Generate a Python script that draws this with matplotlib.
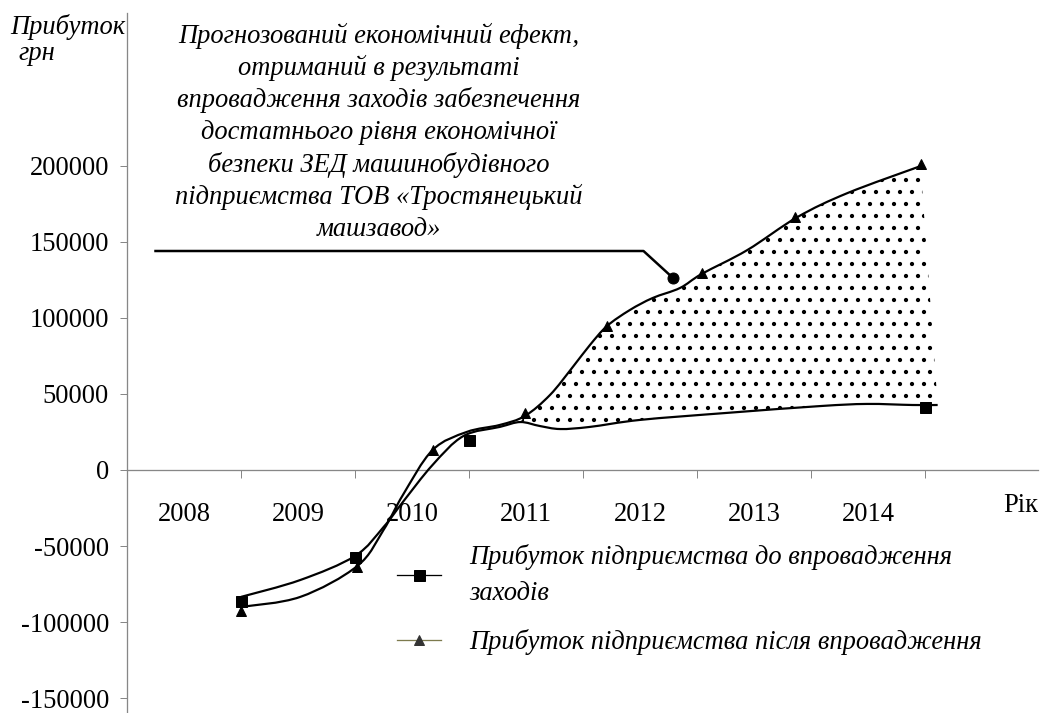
import numpy as np
import matplotlib
matplotlib.use("Agg")
import matplotlib.pyplot as plt
from matplotlib.path import Path
from matplotlib.patches import PathPatch
from matplotlib.lines import Line2D

plt.rcParams["font.family"] = ["Liberation Serif", "DejaVu Serif"]
plt.rcParams["axes.unicode_minus"] = False
plt.rcParams["hatch.linewidth"] = 1.8

# ── data ─────────────────────────────────────────────────────────────
years = [2008, 2009, 2010, 2011, 2012, 2013, 2014]
year_edges = [2008.5, 2009.5, 2010.5, 2011.5, 2012.5, 2013.5, 2014.5]
y_ticks = [-150000, -100000, -50000, 0, 50000, 100000, 150000, 200000]

# profit before the measures: traced curve + marker points
before_x = [2008.50, 2009.02, 2009.50, 2009.75, 2009.92, 2010.18, 2010.45, 2010.77,
            2010.95, 2011.12, 2011.30, 2011.56, 2012.00, 2012.76, 2013.58, 2013.99,
            2014.39, 2014.61]
before_y = [-83400, -72300, -56500, -37500, -21000, 3300, 22300, 28300,
            31500, 28900, 26900, 28300, 32900, 37500, 42000, 43400,
            42700, 42700]
before_mark_x = [2008.5, 2009.5, 2010.5, 2014.5]
before_mark_y = [-86000, -57000, 20000, 41500]

# profit after the measures: traced curve + marker points
after_x = [2008.50, 2009.02, 2009.52, 2009.75, 2009.92, 2010.18, 2010.48, 2010.77,
           2010.99, 2011.21, 2011.41, 2011.56, 2011.71, 2011.91, 2012.11, 2012.35,
           2012.54, 2012.94, 2013.38, 2013.82, 2014.46]
after_y = [-90000, -83400, -63100, -39400, -16400, 13100, 25000, 29600,
           35500, 49300, 67700, 82100, 94600, 105100, 113000, 119600,
           128800, 144500, 166200, 182000, 199700]
after_mark_x = [2008.5, 2009.52, 2010.18, 2010.99, 2011.71, 2012.54, 2013.36, 2014.46]
after_mark_y = [-92600, -63700, 13100, 37500, 94600, 129400, 166200, 201000]

# callout leader (horizontal line, kink, dot)
callout_x = [2007.75, 2012.03, 2012.29]
callout_y = [143900, 143900, 126100]

title_lines = ["Прогнозований економічний ефект,",
               "отриманий в результаті",
               "впровадження заходів забезпечення",
               "достатнього рівня економічної",
               "безпеки ЗЕД машинобудівного",
               "підприємства ТОВ «Тростянецький",
               "машзавод»"]
label_before = "Прибуток підприємства до впровадження\nзаходів"
label_after = "Прибуток підприємства після впровадження"


def bezier_segments(xs, ys):
    """Catmull-Rom through the points, as cubic Bezier segments."""
    p = np.column_stack([xs, ys]).astype(float)
    segs = []
    for i in range(len(p) - 1):
        p0 = p[i - 1] if i > 0 else p[i]
        p3 = p[i + 2] if i + 2 < len(p) else p[i + 1]
        c1 = p[i] + (p[i + 1] - p0) / 6
        c2 = p[i + 1] - (p3 - p[i]) / 6
        segs.append((p[i], c1, c2, p[i + 1]))
    return segs


def segs_to_path(segs):
    verts = [segs[0][0]]
    codes = [Path.MOVETO]
    for s in segs:
        verts += [s[1], s[2], s[3]]
        codes += [Path.CURVE4] * 3
    return Path(verts, codes)


W, H, DPI = 1046, 713, 72
FS = 26.5
fig = plt.figure(figsize=(W / DPI, H / DPI), dpi=DPI)
ax = fig.add_axes([127 / W, 0, (1038 - 127) / W, (713 - 13) / H])
ax.set_xlim(2007.5, 2015.49)
ax.set_ylim(-159700, 300300)

axis_grey = "#878787"
for side in ["top", "right"]:
    ax.spines[side].set_visible(False)
ax.spines["bottom"].set_position(("data", 0))
for side in ["left", "bottom"]:
    ax.spines[side].set_color(axis_grey)
    ax.spines[side].set_linewidth(1.3)

ax.set_yticks(y_ticks)
ax.set_yticklabels([str(v) for v in y_ticks])
ax.tick_params(axis="y", direction="out", length=7, width=1, color=axis_grey,
               labelsize=FS, pad=11)
ax.set_xticks(year_edges)
ax.set_xticklabels([])
ax.set_xticks(years, minor=True)
ax.set_xticklabels([str(y) for y in years], minor=True)
ax.tick_params(axis="x", which="major", direction="out", length=8, width=1, color=axis_grey)
ax.tick_params(axis="x", which="minor", length=0, labelsize=FS, pad=32)

# dotted area: effect between the two curves
seg_after = bezier_segments(after_x, after_y)
seg_before = bezier_segments(before_x, before_y)
i0 = after_x.index(2010.99)
j0 = before_x.index(2010.95)
top = seg_after[i0:]
bot = [(s[3], s[2], s[1], s[0]) for s in reversed(seg_before[j0:])]
verts = [top[0][0]]
codes = [Path.MOVETO]
for s in top:
    verts += [s[1], s[2], s[3]]
    codes += [Path.CURVE4] * 3
verts.append(bot[0][0])
codes.append(Path.LINETO)
for s in bot:
    verts += [s[1], s[2], s[3]]
    codes += [Path.CURVE4] * 3
verts.append(verts[0])
codes.append(Path.CLOSEPOLY)
ax.add_patch(PathPatch(Path(verts, codes), facecolor="none", edgecolor="black",
                       linewidth=0, hatch=".", zorder=1))

# curves
ax.add_patch(PathPatch(segs_to_path(seg_before), facecolor="none", edgecolor="black",
                       linewidth=2.2, zorder=3))
ax.add_patch(PathPatch(segs_to_path(seg_after), facecolor="none", edgecolor="black",
                       linewidth=2.2, zorder=3))
ax.plot(before_mark_x, before_mark_y, "s", color="black", markersize=11, zorder=4)
ax.plot(after_mark_x, after_mark_y, "^", color="black", markersize=10, zorder=4)

# callout
ax.plot(callout_x, callout_y, color="black", linewidth=2.5, zorder=4)
ax.plot(callout_x[-1], callout_y[-1], "o", color="black", markersize=11, zorder=4)

# title block, one text per line with the original spacing
for k, line in enumerate(title_lines):
    fig.text(379 / W, 1 - (33 + 32.2 * k) / H, line, ha="center", va="center_baseline",
             fontsize=FS, style="italic")
fig.text(10 / W, 1 - 27 / H, "Прибуток", ha="left", va="center", fontsize=FS, style="italic")
fig.text(18 / W, 1 - 53 / H, "грн", ha="left", va="center", fontsize=FS, style="italic")
fig.text(1021 / W, 1 - 505 / H, "Рік", ha="center", va="center", fontsize=FS)

handles = [
    Line2D([0], [0], color="black", linewidth=1.3, marker="s", markersize=11),
    Line2D([0], [0], color="#7d7a4e", linewidth=1.3, marker="^", markersize=10,
           markerfacecolor="#333333", markeredgecolor="#333333"),
]
leg = fig.legend(handles, [label_before, label_after], loc="upper left",
                 bbox_to_anchor=(397 / W, 1 - 544 / H), frameon=False,
                 prop={"size": FS, "style": "italic"}, handlelength=1.66,
                 handletextpad=1.06, labelspacing=0.85, borderpad=0, borderaxespad=0)
for t in leg.get_texts():
    t.set_linespacing(1.6)

fig.savefig("out.png", dpi=DPI)
